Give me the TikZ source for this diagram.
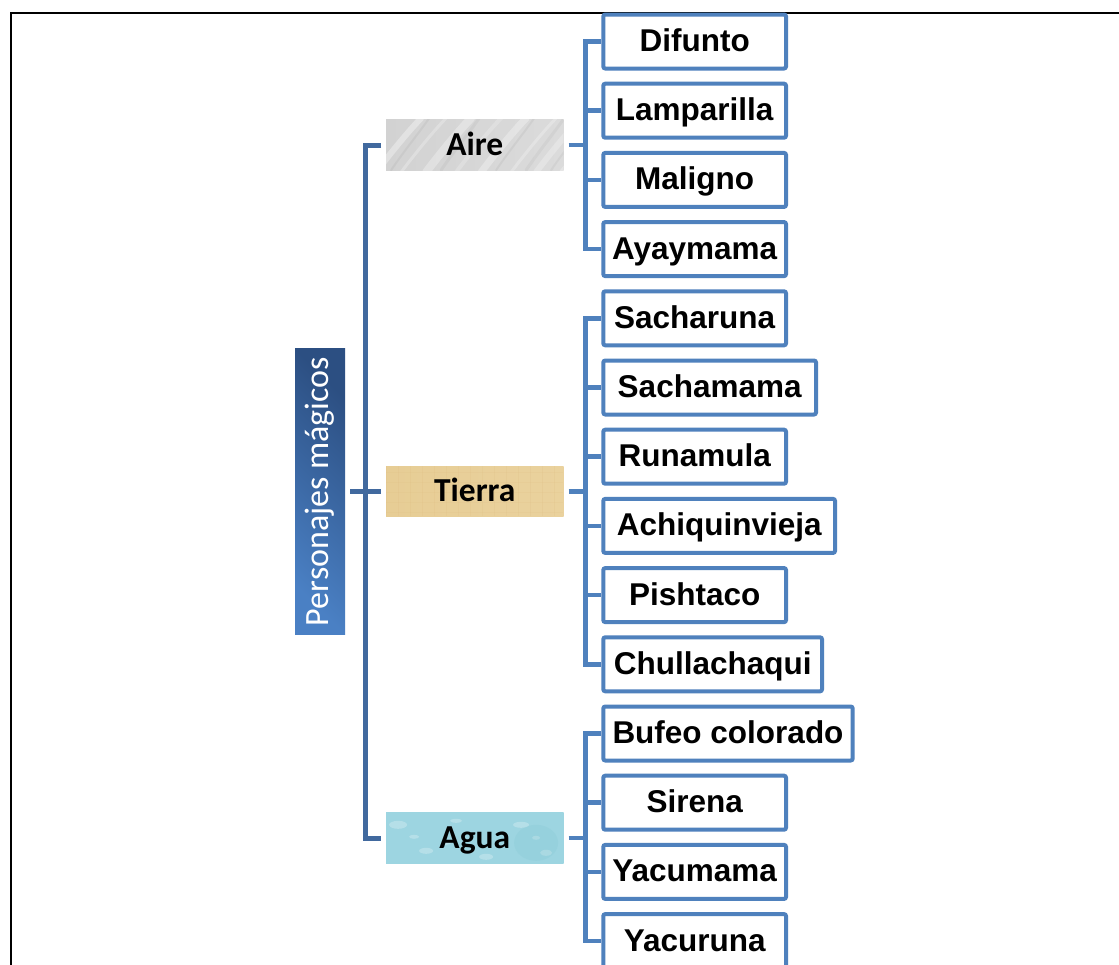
\documentclass[tikz,border=0pt]{standalone}
\usepackage{fontspec}
\setmainfont{Liberation Sans}
\newfontfamily\carlito{Carlito}
\usetikzlibrary{calc,backgrounds}
\definecolor{trunkblue}{HTML}{41699E}
\definecolor{leafblue}{HTML}{4F81BD}
\definecolor{rootlight}{HTML}{4A80C4}
\definecolor{rootdark}{HTML}{2C4F82}
\definecolor{airA}{HTML}{D2D2D2}
\definecolor{airB}{HTML}{E8E8E8}
\definecolor{tieA}{HTML}{E7CD95}
\definecolor{tieB}{HTML}{F0DDB2}
\definecolor{aguA}{HTML}{9DD5E1}
\definecolor{aguB}{HTML}{B9E5EC}
\begin{document}
\begin{tikzpicture}[x=1pt,y=-1pt,
  trunk/.style={draw=trunkblue,line width=5pt,line join=miter},
  leafline/.style={draw=leafblue,line width=4.5pt,line join=miter},
  leafbox/.style={draw=leafblue,line width=4pt,rounded corners=2pt,fill=white,
    minimum height=54pt,inner sep=0pt,anchor=west,text height=22.7pt,text depth=2.7pt,
    font=\bfseries\fontsize{31.5}{36}\selectfont},
  catbox/.style={minimum width=177pt,minimum height=50pt,inner sep=0pt,
    text height=21.6pt,text depth=1.6pt,
    font=\carlito\bfseries\fontsize{33.5}{40}\selectfont},
  std/.style={minimum width=182.7pt}]
\useasboundingbox (0,0) rectangle (1119,964);
\begin{scope}[on background layer]
\fill[white] (0,0) rectangle (1119,964);
\end{scope}
% frame
\draw[line width=2pt,line cap=rect] (10.5,964) -- (10.5,12.5) -- (1119,12.5);

% root
\node[minimum width=50pt,minimum height=286.7pt,inner sep=0pt,
      left color=rootlight,right color=rootdark,shading angle=135]
      (root) at (320,491.5) {};
\node[rotate=90,text=white,font=\carlito\fontsize{34}{40}\selectfont] (roottext) at (root.center) {Personajes mágicos};

% categories (text nodes; textures on background layer)
\node[catbox] (aire) at (474.8,145) {Aire};
\node[catbox] (tierra) at (474.8,491.3) {Tierra};
\node[catbox] (agua) at (474.8,838) {Agua};

\begin{scope}[on background layer]
  % Aire: marble
  \shade[left color=airA,middle color=airB,right color=airA!80!white] (aire.north west) rectangle (aire.south east);
  \begin{scope}
    \clip (aire.north west) rectangle (aire.south east);
    \foreach \x/\w/\o in {-10/6/.35, 15/3/.25, 40/8/.3, 70/4/.2, 95/7/.3, 125/3/.25, 150/6/.25, 175/4/.3}
      \draw[white,line width=\w pt,opacity=\o,line cap=round]
        ($(aire.south west)+(\x,2)$) .. controls +(15,-20) and +(-10,10) .. +(45,-54);
    \foreach \x/\w/\o in {5/2/.12, 55/3/.1, 110/2/.12, 140/3/.1, 165/2/.1}
      \draw[black!45,line width=\w pt,opacity=\o,line cap=round]
        ($(aire.south west)+(\x,0)$) .. controls +(12,-18) and +(-8,12) .. +(38,-52);
  \end{scope}
  % Tierra: parchment
  \shade[left color=tieA,middle color=tieB,right color=tieA!70!tieB] (tierra.north west) rectangle (tierra.south east);
  \begin{scope}
    \clip (tierra.north west) rectangle (tierra.south east);
    \foreach \x in {0,12,...,180}
      \draw[tieA!70!brown,opacity=.15,line width=1pt] ($(tierra.north west)+(\x,0)$) -- ++(0,50);
    \foreach \y in {6,16,...,50}
      \draw[tieA!70!brown,opacity=.12,line width=1pt] ($(tierra.north west)+(0,\y)$) -- ++(177,0);
  \end{scope}
  % Agua: water
  \shade[left color=aguA,middle color=aguB,right color=aguA] (agua.north west) rectangle (agua.south east);
  \begin{scope}
    \clip (agua.north west) rectangle (agua.south east);
    \foreach \x/\y/\r/\s in {12/12/9/4, 40/38/7/3, 28/24/5/2, 135/12/8/3, 160/40/6/3, 150/25/4/2, 100/44/7/3, 70/8/6/2, 60/30/5/2}
      \fill[white,opacity=.25] ($(agua.north west)+(\x,\y)$) ellipse ({\r pt} and {\s pt});
    \fill[aguA!80!teal,opacity=.2] ($(agua.north west)+(150,30)$) ellipse (22pt and 18pt);
  \end{scope}
\end{scope}

% leaves
\node[leafbox,std] (l0) at (601.3,41.5) {Difunto};
\node[leafbox,std] (l1) at (601.3,110.7) {Lamparilla};
\node[leafbox,std] (l2) at (601.3,179.9) {Maligno};
\node[leafbox,std] (l3) at (601.3,249.1) {Ayaymama};
\node[leafbox,std] (l4) at (601.3,318.3) {Sacharuna};
\node[leafbox,minimum width=212.7pt] (l5) at (601.3,387.5) {Sachamama};
\node[leafbox,std] (l6) at (601.3,456.7) {Runamula};
\node[leafbox,minimum width=231.7pt] (l7) at (601.3,525.9) {Achiquinvieja};
\node[leafbox,std] (l8) at (601.3,595.1) {Pishtaco};
\node[leafbox,minimum width=218.7pt] (l9) at (601.3,664.3) {Chullachaqui};
\node[leafbox,minimum width=249.4pt] (l10) at (601.3,733.5) {Bufeo colorado};
\node[leafbox,std] (l11) at (601.3,802.7) {Sirena};
\node[leafbox,std] (l12) at (601.3,871.9) {Yacumama};
\node[leafbox,std] (l13) at (601.3,941.1) {Yacuruna};

% trunk
\coordinate (T) at (365.3,491.3);
\draw[trunk,shorten <=5pt,shorten >=5pt] (aire.west) -- (T |- aire.west) -- (T |- agua.west) -- (agua.west);
\draw[trunk,shorten <=5pt,shorten >=5pt] (root.east |- tierra.west) -- (tierra.west);

% junctions
\coordinate (JA) at (585.5,145);
\coordinate (JT) at (585.5,491.3);
\coordinate (JW) at (585.5,838);

\draw[leafline,shorten <=5pt] (aire.east) -- (JA);
\draw[leafline] (l0.west) -- (JA |- l0.west) -- (JA |- l3.west) -- (l3.west);
\foreach \n in {l1,l2} \draw[leafline] (JA |- \n.west) -- (\n.west);

\draw[leafline,shorten <=5pt] (tierra.east) -- (JT);
\draw[leafline] (l4.west) -- (JT |- l4.west) -- (JT |- l9.west) -- (l9.west);
\foreach \n in {l5,l6,l7,l8} \draw[leafline] (JT |- \n.west) -- (\n.west);

\draw[leafline,shorten <=5pt] (agua.east) -- (JW);
\draw[leafline] (l10.west) -- (JW |- l10.west) -- (JW |- l13.west) -- (l13.west);
\foreach \n in {l11,l12} \draw[leafline] (JW |- \n.west) -- (\n.west);
\end{tikzpicture}
\end{document}
